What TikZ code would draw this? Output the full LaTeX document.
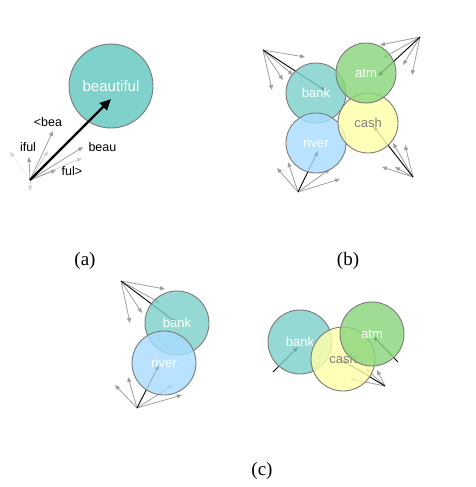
\documentclass[tikz,border=0pt]{standalone}
\usepackage{fontspec}
\setmainfont{Liberation Serif}
\setsansfont{Liberation Sans}
\usetikzlibrary{arrows.meta}

\definecolor{tealc}{HTML}{7FD1CB}
\definecolor{greenc}{HTML}{8AD67C}
\definecolor{yellowc}{HTML}{FFFFA8}
\definecolor{bluec}{HTML}{A9DCFF}
\definecolor{rimc}{HTML}{7A7A7A}

\tikzset{
		word/.style   = {shape=circle, draw=rimc, line width=0.9pt,
				inner sep=0pt, minimum size=60pt,
				fill opacity=0.82, text opacity=1, text=white,
				font=\sffamily\fontsize{13}{13}\selectfont},
		bank/.style   = {word, fill=tealc},
		atm/.style    = {word, fill=greenc},
		cash/.style   = {word, fill=yellowc, text=gray},
		river/.style  = {word, fill=bluec},
		big/.style    = {word, fill=tealc, fill opacity=1, minimum size=84pt,
				font=\sffamily\fontsize{15}{15}\selectfont},
		vec/.style    = {draw=gray!75, line width=0.8pt,
				-{Triangle[length=5pt,width=4pt]}},
		faint/.style  = {vec, draw=gray!35},
		main/.style   = {draw=black, line width=0.9pt,
				-{Triangle[length=5pt,width=4pt]}},
		thick/.style  = {draw=black, line width=2.4pt,
				-{Triangle[length=11pt,width=10pt]}},
		gram/.style   = {font=\sffamily\fontsize{12.5}{12.5}\selectfont},
		caption/.style = {font=\fontsize{19}{19}\selectfont}
	}

\begin{document}
\begin{tikzpicture}[x=1pt, y=-1pt]
	\useasboundingbox (0,0) rectangle (475,487);

	% (a)
	\coordinate (ao) at (30,180);
	\foreach \x/\y [count=\i] in {10/152, 48/151, 30/191, 82/158} {
		\coordinate (af\i) at (\x,\y);
	}
	\draw[faint, dotted] (ao) -- (af1);
	\draw[faint] (ao) -- (af2);
	\draw[faint] (ao) -- (af3);
	\draw[faint] (ao) -- (af4);
	\coordinate (bea) at (53,131);
	\coordinate (iful) at (29,157);
	\coordinate (beau) at (83,147);
	\coordinate (ful) at (56,170);
	\draw[vec] (ao) -- (bea);
	\draw[vec] (ao) -- (iful);
	\draw[vec] (ao) -- (beau);
	\draw[vec] (ao) -- (ful);
	\node[gram] (lbea) at (48,122) {<bea};
	\node[gram] (liful) at (28,147) {iful};
	\node[gram, anchor=west] (lbeau) at (85,147) {beau};
	\node[gram] (lful) at (72,171) {ful>};
	\node[big] (beautiful) at (111,86) {beautiful};
	\coordinate (atip) at (111,99);
	\draw[thick] (ao) -- (atip);
	\node[caption] (capa) at (85,261) {(a)};

	% (b)
	\coordinate (bbo) at (263,50);
	\coordinate (bao) at (420,37);
	\coordinate (bco) at (413,177);
	\coordinate (bro) at (298,192);
	\foreach \x/\y [count=\i] in {305/57, 272/90, 283/80, 293/75} {
		\coordinate (bb\i) at (\x,\y);
		\draw[vec] (bbo) -- (bb\i);
	}
	\foreach \x/\y [count=\i] in {380/45, 383/58, 403/65, 412/75} {
		\coordinate (ba\i) at (\x,\y);
		\draw[vec] (bao) -- (ba\i);
	}
	\foreach \x/\y [count=\i] in {382/167, 393/143, 405/145, 395/167} {
		\coordinate (bc\i) at (\x,\y);
		\draw[vec] (bco) -- (bc\i);
	}
	\foreach \x/\y [count=\i] in {277/168, 288/162, 340/179, 330/169} {
		\coordinate (br\i) at (\x,\y);
		\draw[vec] (bro) -- (br\i);
	}
	\coordinate (bbt) at (326,91);
	\coordinate (bat) at (378,76);
	\coordinate (bct) at (373,126);
	\coordinate (brt) at (318,151);
	\draw[main] (bbo) -- (bbt);
	\draw[main] (bao) -- (bat);
	\draw[main] (bco) -- (bct);
	\draw[main] (bro) -- (brt);
	\node[bank] (bankb) at (316,93) {bank};
	\node[river] (riverb) at (316,143) {river};
	\node[cash] (cashb) at (368,123) {cash};
	\node[atm] (atmb) at (366,73) {atm};
	\node[caption] (capb) at (348,261) {(b)};

	% (c)
	\coordinate (cbo) at (121,281);
	\coordinate (cro) at (137,408);
	\foreach \x/\y [count=\i] in {165/289, 130/323, 142/313, 160/303} {
		\coordinate (cb\i) at (\x,\y);
		\draw[vec] (cbo) -- (cb\i);
	}
	\foreach \x/\y [count=\i] in {115/385, 128/377, 173/385, 182/395} {
		\coordinate (cr\i) at (\x,\y);
		\draw[vec] (cro) -- (cr\i);
	}
	\coordinate (cbt) at (177,323);
	\coordinate (crt) at (159,365);
	\draw[main] (cbo) -- (cbt);
	\draw[main] (cro) -- (crt);
	\node[bank, minimum size=64pt] (bankc) at (177,323) {bank};
	\node[river, minimum size=64pt] (riverc) at (164,363) {river};

	\coordinate (dbo) at (273,372);
	\coordinate (dao) at (398,362);
	\coordinate (dco) at (385,386);
	\foreach \x/\y [count=\i] in {350/379, 365/368, 377/370} {
		\coordinate (dc\i) at (\x,\y);
		\draw[vec] (dco) -- (dc\i);
	}
	\coordinate (dbt) at (298,347);
	\coordinate (dat) at (373,336);
	\coordinate (dct) at (342,360);
	\draw[main] (dbo) -- (dbt);
	\draw[main] (dao) -- (dat);
	\draw[main] (dco) -- (dct);
	\node[bank, minimum size=64pt] (bankd) at (300,342) {bank};
	\node[cash, minimum size=64pt] (cashd) at (343,359) {cash};
	\node[atm, minimum size=64pt] (atmd) at (372,334) {atm};
	\node[caption] (capc) at (262,471) {(c)};
\end{tikzpicture}
\end{document}
